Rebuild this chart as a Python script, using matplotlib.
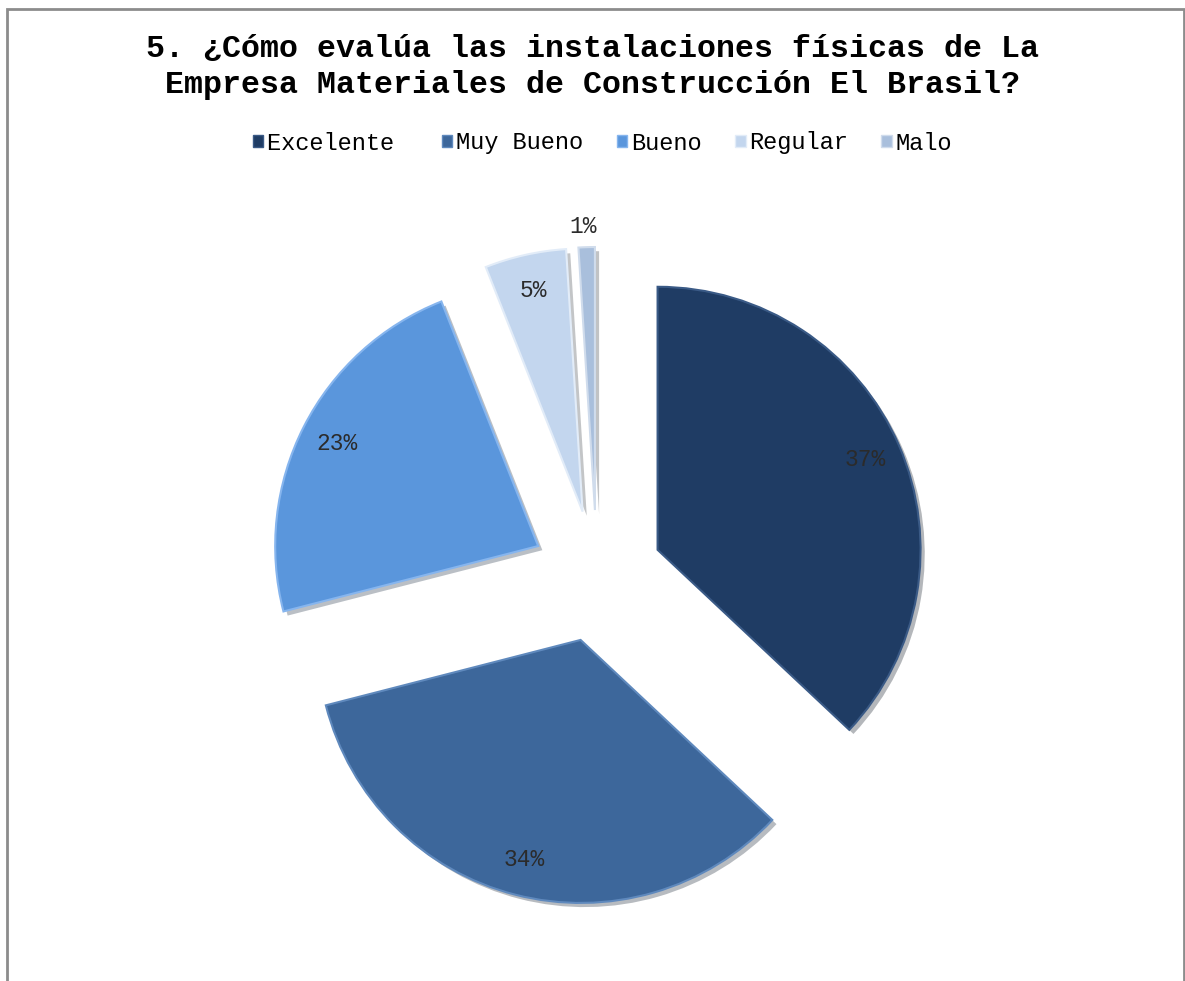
import numpy as np
import matplotlib.pyplot as plt
import matplotlib.patheffects as pe
from matplotlib.patches import Rectangle, Patch

# survey answers, question 5
categorias = ["Excelente ", "Muy Bueno", "Bueno", "Regular", "Malo"]
porcentajes = [37, 34, 23, 5, 1]
colores = ["#1f3c64", "#3d679b", "#5a96dc", "#c3d6ee", "#a9bfdc"]
bordes = ["#3a5a86", "#5f89bd", "#86b5ee", "#e2ecf8", "#d0dcec"]
titulo = "5. ¿Cómo evalúa las instalaciones físicas de La\nEmpresa Materiales de Construcción El Brasil?"

W, H = 1185, 981
fig = plt.figure(figsize=(W / 100, H / 100), dpi=100)
ax = fig.add_axes([0, 0, 1, 1])

# gray frame
ax.add_patch(Rectangle((7, -5), W - 8, H - 9 + 5, fill=False,
                       edgecolor="#8c8c8c", linewidth=2))

radio = 263
centro = (597, H - 576)
sep = 66  # offset of each slice, same units as radio
wedges, textos, autotextos = ax.pie(
    porcentajes, colors=colores, startangle=90, counterclock=False,
    radius=radio, center=centro, explode=[sep] * 5,
    autopct="%1.0f%%", pctdistance=0.86,
    wedgeprops=dict(linewidth=1.5,
                    path_effects=[pe.withSimplePatchShadow(offset=(3, -3), alpha=0.3)]),
    textprops=dict(family="Liberation Mono", fontsize=16.5, color="#2b2b2b"),
    frame=True,
)
for w, b in zip(wedges, bordes):
    w.set_edgecolor(b)

# tiny slice: label sits outside
w = wedges[-1]
ang = np.deg2rad((w.theta1 + w.theta2) / 2)
d = sep + 1.08 * radio
autotextos[-1].set_position((centro[0] + d * np.cos(ang) - 3, centro[1] + d * np.sin(ang)))

ax.set_xlim(0, W)
ax.set_ylim(0, H)
ax.set_aspect("equal")
ax.axis("off")

fig.text(0.5, 1 - 67 / H, titulo, ha="center", va="center", family="Liberation Mono",
         fontsize=22.8, fontweight="bold", linespacing=1.25)

handles = [Patch(facecolor=c, edgecolor=b, linewidth=1) for c, b in zip(colores, bordes)]
fig.legend(handles, categorias, loc="center", bbox_to_anchor=((W / 2 + 10) / W, 1 - 143 / H),
           ncol=5, frameon=False, prop=dict(family="Liberation Mono", size=17),
           handlelength=0.45, handleheight=0.45, handletextpad=0.15, columnspacing=1.42)

fig.savefig("out.png", dpi=100)
